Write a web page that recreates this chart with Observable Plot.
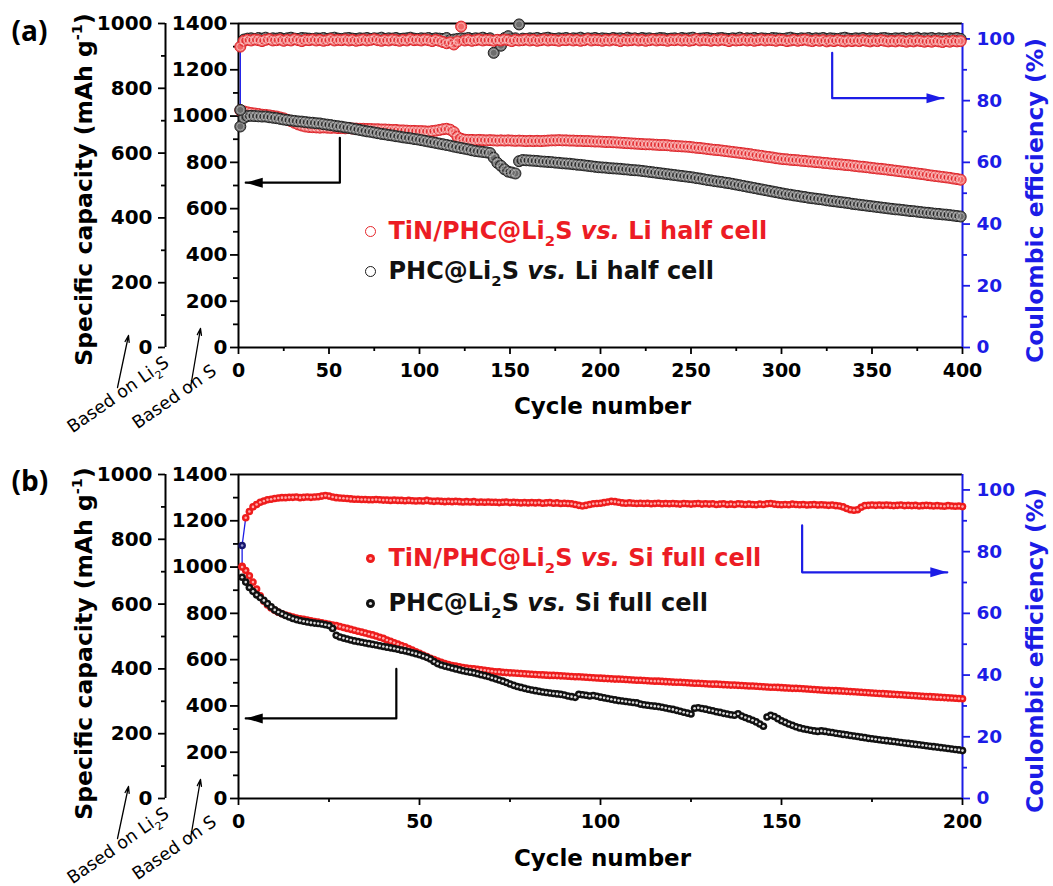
<!DOCTYPE html>
<html><head><meta charset="utf-8">
<script src="https://cdn.jsdelivr.net/npm/d3@7"></script>
<script src="https://cdn.jsdelivr.net/npm/@observablehq/plot@0.6"></script>
<style>body{margin:0;background:#fff;} #chart svg{display:block;}</style>
</head><body><div id="chart"></div>
<script>
// ---------------- DATA ----------------
// Panel (a): cycles 1,3,5,...,399 ; capacity in mAh g-1 (based on S), CE in %
const cyclesA = d3.range(1, 400, 2);
const capRedA = [
1025,1020,1016,1013,1011,1009,1006,1005,1003,1000,
998,994,990,984,978,971,964,959,955,953,
952,951,950,951,950,949,950,948,948,947,
948,946,946,945,945,944,944,943,943,942,
942,941,940,940,938,938,937,936,936,935,
935,934,933,935,937,940,943,945,941,931,
910,902,898,897,897,896,897,896,895,896,
895,894,895,894,895,894,893,894,893,892,
893,892,893,892,893,894,895,895,896,895,
895,894,894,893,893,892,892,891,890,890,
889,888,888,887,886,885,884,883,882,881,
880,879,878,878,877,876,875,875,874,872,
871,870,869,868,867,865,863,862,860,858,
856,854,853,851,849,847,845,843,841,839,
837,835,832,830,828,825,823,821,818,816,
814,813,811,810,809,807,806,804,803,801,
800,798,797,795,794,792,791,789,788,786,
784,782,781,779,777,775,773,772,770,768,
766,764,762,760,758,756,754,752,750,748,
745,743,741,739,737,735,733,730,728,725];
const capBlackA = [
955,992,1000,1001,1000,999,998,998,995,993,
991,988,985,983,981,979,977,976,974,972,
971,969,968,965,963,961,958,956,954,951,
949,946,943,940,937,934,932,929,926,923,
921,918,916,913,911,908,906,904,901,899,
896,893,890,887,884,881,878,875,872,868,
865,862,859,856,852,849,847,845,843,840,
820,798,785,770,760,756,752,805,810,809,
808,807,806,804,803,802,801,799,798,796,
795,794,792,790,789,787,785,783,781,779,
778,777,775,774,773,772,770,769,767,766,
765,763,761,759,757,755,753,751,749,747,
745,743,741,739,737,735,732,730,727,724,
722,719,717,715,712,710,707,704,701,698,
695,692,689,686,683,680,677,674,671,668,
665,662,660,657,655,652,650,647,645,643,
641,639,636,634,632,630,628,626,624,621,
619,617,615,613,611,609,607,605,603,601,
599,597,596,594,592,590,589,587,585,583,
582,580,578,577,575,574,572,570,568,566];
const ceRedA = [
97.5,99.4,99.7,99.5,99.8,99.6,99.3,99.7,99.9,99.5,
99.6,99.8,99.4,99.7,99.5,99.9,99.6,99.3,99.7,99.6,
99.8,99.5,99.7,99.4,99.6,99.9,99.5,99.7,99.6,99.8,
99.5,99.7,99.4,99.6,99.8,99.5,99.7,99.9,99.6,99.4,
99.7,99.5,99.8,99.6,99.4,99.7,99.5,99.9,99.6,99.7,
99.5,99.8,99.6,99.3,99.7,99.4,99.0,98.6,98.9,98.2,
99.2,104.0,99.5,99.7,99.4,99.6,99.8,99.5,99.7,99.6,
99.4,99.7,99.5,99.8,99.6,99.3,99.7,99.5,99.6,99.8,
99.5,99.7,99.4,99.6,99.8,99.5,99.7,99.6,99.4,99.7,
99.6,99.8,99.5,99.7,99.4,99.6,99.9,99.5,99.7,99.6,
99.4,99.7,99.5,99.8,99.6,99.3,99.7,99.5,99.6,99.8,
99.5,99.7,99.4,99.6,99.8,99.5,99.7,99.6,99.4,99.7,
99.6,99.8,99.5,99.7,99.4,99.6,99.9,99.5,99.7,99.6,
99.4,99.7,99.5,99.8,99.6,99.3,99.7,99.5,99.6,99.8,
99.5,99.7,99.4,99.6,99.8,99.5,99.7,99.6,99.4,99.7,
99.6,99.3,99.5,99.7,99.4,99.6,99.8,99.5,99.3,99.6,
99.4,99.6,99.2,99.5,99.3,99.6,99.4,99.2,99.5,99.3,
99.5,99.3,99.6,99.4,99.2,99.5,99.3,99.6,99.4,99.2,
99.4,99.2,99.5,99.3,99.1,99.4,99.2,99.5,99.3,99.1,
99.3,99.1,99.4,99.2,99.0,99.3,99.1,99.4,99.2,99.3];
const ceBlackA = [
77.0,99.8,100.1,100.2,100.0,100.3,100.1,100.4,100.0,100.2,
100.1,100.3,100.0,100.2,100.4,100.1,100.0,100.3,100.2,100.1,
100.0,100.2,100.1,100.3,100.0,100.2,100.4,100.1,100.0,100.2,
100.3,100.1,100.0,100.2,100.1,100.3,100.0,100.2,100.1,100.4,
100.0,100.2,100.1,100.3,100.0,100.1,100.2,100.4,100.1,100.0,
100.2,100.1,100.3,100.0,100.2,100.1,100.0,100.3,99.6,99.8,
100.0,100.2,100.1,100.3,100.0,100.2,100.1,100.4,100.0,100.2,
95.5,99.6,97.8,100.3,100.9,100.0,100.2,104.7,100.1,100.0,
100.2,100.1,100.3,100.0,100.2,100.4,100.1,100.0,100.2,100.1,
100.3,100.0,100.2,100.1,100.4,100.0,100.2,100.1,100.3,100.0,
100.2,100.1,100.0,100.3,100.1,100.2,100.0,100.4,100.1,100.2,
100.0,100.3,100.1,100.2,100.0,100.1,100.3,100.2,100.0,100.1,
100.2,100.0,100.3,100.1,100.2,100.4,100.0,100.1,100.2,100.3,
100.1,100.0,100.2,100.3,100.1,100.0,100.2,100.1,100.4,100.0,
100.2,100.1,100.3,100.0,100.2,100.1,100.0,100.3,100.2,100.1,
100.0,100.2,100.4,100.1,100.0,100.2,100.1,100.3,100.0,100.2,
100.1,100.3,100.0,100.2,100.1,100.0,100.2,100.4,100.1,100.0,
100.2,100.1,100.3,100.0,100.2,100.1,100.0,100.2,100.3,100.1,
100.0,100.2,100.1,100.3,100.0,100.2,100.1,100.4,100.0,100.2,
100.1,100.3,100.0,100.2,100.1,100.0,100.2,100.1,100.3,100.0];

// Panel (b): cycles 1..200
const cyclesB = d3.range(1, 201);
const capRedB = [
1003,985,962,935,905,876,852,836,823,813,
805,798,793,788,784,780,777,774,771,768,
765,762,759,756,753,750,747,743,739,735,
731,727,723,719,715,711,707,702,697,692,
685,679,673,667,661,655,648,641,634,627,
620,613,606,600,594,588,583,579,575,572,
569,566,564,562,560,558,556,554,552,550,
548,547,545,544,543,542,541,540,539,538,
537,536,535,534,533,532,532,531,530,529,
528,527,526,526,525,524,523,522,521,520,
519,518,517,516,516,515,514,513,512,511,
511,510,509,508,507,507,506,505,504,503,
502,502,501,500,499,498,498,497,496,495,
494,494,493,492,491,490,490,489,488,487,
486,486,485,484,483,482,481,481,480,479,
478,477,476,476,475,474,473,472,471,470,
469,468,467,466,466,465,464,463,462,461,
460,459,458,457,456,455,454,453,452,451,
450,449,448,447,446,445,444,443,442,441,
440,439,438,437,436,435,434,433,432,431];
const capBlackB = [
956,935,912,895,880,868,856,842,828,815,
806,798,791,784,778,773,769,766,763,760,
758,756,754,751,747,735,705,698,693,689,
685,681,678,675,672,669,666,663,660,657,
654,651,648,645,641,638,634,630,626,621,
616,610,603,592,583,577,572,568,564,560,
556,552,549,546,543,539,535,531,527,522,
517,512,507,501,495,489,484,480,476,472,
469,466,463,460,458,456,454,452,450,447,
443,440,437,450,448,446,443,445,442,438,
435,432,429,426,423,421,419,417,415,413,
408,405,403,401,399,397,394,391,388,385,
381,377,373,369,365,390,392,389,386,382,
379,375,372,368,365,362,360,366,356,350,
344,338,331,322,312,352,360,354,345,336,
329,322,316,310,305,301,298,295,292,290,
292,290,287,285,282,280,277,275,272,270,
268,265,263,260,258,256,254,252,250,248,
246,244,242,240,238,236,234,232,230,228,
226,224,222,220,218,216,214,212,210,207];
const ceRedB = [
75.0,91.0,93.0,94.5,95.3,96.0,96.4,96.8,97.0,97.2,
97.4,97.5,97.5,97.6,97.6,97.7,97.5,97.6,97.7,97.6,
97.7,97.8,98.0,98.2,98.0,97.7,97.5,97.4,97.3,97.2,
97.1,97.0,97.0,96.9,96.9,96.8,96.8,96.9,96.8,96.7,
96.7,96.6,96.7,96.6,96.6,96.5,96.6,96.5,96.4,96.5,
96.4,96.6,96.4,96.3,96.4,96.3,96.2,96.3,96.2,96.3,
96.2,96.1,96.2,96.1,96.2,96.0,96.1,96.0,96.1,96.0,
96.0,95.9,96.0,96.1,95.9,96.0,95.9,95.8,95.9,95.8,
95.9,95.8,95.9,95.7,95.8,95.9,95.7,95.8,95.6,95.7,
95.6,95.5,95.3,95.0,94.8,95.0,95.3,95.5,95.6,95.7,
95.9,96.1,96.3,96.2,96.0,95.8,95.7,95.8,95.7,95.6,
95.7,95.6,95.7,95.5,95.6,95.7,95.5,95.6,95.5,95.6,
95.5,95.4,95.6,95.5,95.4,95.5,95.6,95.4,95.5,95.4,
95.5,95.3,95.4,95.5,95.3,95.4,95.3,95.5,95.4,95.3,
95.4,95.3,95.2,95.4,95.3,95.5,95.6,95.4,95.3,95.2,
95.3,95.2,95.4,95.3,95.2,95.3,95.1,95.2,95.3,95.1,
95.2,95.1,95.0,95.1,94.9,94.8,94.5,94.0,93.6,93.4,
93.6,94.4,94.9,95.0,95.1,95.0,95.1,95.0,95.1,95.0,
94.9,95.0,95.1,94.9,95.0,94.9,95.0,94.8,94.9,95.0,
94.9,94.8,94.9,94.8,94.7,94.9,94.8,94.7,94.8,94.6];
const ceBlackB = [82.0]; // first-cycle CE of the PHC@Li2S full cell (the navy point)

// Tick values
const sTicks = [0,200,400,600,800,1000,1200,1400];
const sMinor = [100,300,500,700,900,1100,1300];
const li2sTicks = [0,200,400,600,800,1000];
const li2sMinor = [100,300,500,700,900];
const ceTicks = [0,20,40,60,80,100];
const ceMinor = [10,30,50,70,90];
const xTicksA = [0,50,100,150,200,250,300,350,400];
const xMinorA = [25,75,125,175,225,275,325,375];
const xTicksB = [0,50,100,150,200];
const xMinorB = [25,75,125,175];

// Labels
const legendA = ["TiN/PHC@Li_{2}S *vs.* Li half cell", "PHC@Li_{2}S *vs.* Li half cell"];
const legendB = ["TiN/PHC@Li_{2}S *vs.* Si full cell", "PHC@Li_{2}S *vs.* Si full cell"];
const yTitle = "Specific capacity (mAh g^{-1})";
const y2Title = "Coulombic efficiency (%)";
const xTitle = "Cycle number";
const basedLabels = ["Based on Li_{2}S", "Based on S"];

// Annotation arrows (cycle, capacity / CE)
const arrowsA = {black: [[56, 906], [56, 712], [4, 712]], blue: [[328, 95.5], [328, 80.8], [389.5, 80.8]]};
const arrowsB = {black: [[43.6, 560], [43.6, 346], [2, 346]], blue: [[155.7, 88.5], [155.7, 73.3], [195.8, 73.3]]};

// ---------------- STYLE / LAYOUT ----------------
const BLUE = "#1c1ce6", RED = "#ec1c24";
const K = 1400 / 105;      // CE (%) -> left scale units
const LI2S = 1.4;          // Li2S-based -> S-based
const W = 1053, H = 443, ML = 238, MR = 91, FW = W - ML - MR, FH = 324;
const fmt = d => String(Math.round(d));

const headLeft = {draw(ctx, size) { const r = Math.sqrt(size / Math.PI); ctx.moveTo(0, 0); ctx.lineTo(3.4 * r, -r); ctx.lineTo(3.4 * r, r); ctx.closePath(); }};
const headRight = {draw(ctx, size) { const r = Math.sqrt(size / Math.PI); ctx.moveTo(0, 0); ctx.lineTo(-3.4 * r, -r); ctx.lineTo(-3.4 * r, r); ctx.closePath(); }};

function axes(xTicks, xMinor, xMax) {
  const ax = {strokeWidth: 1.8, label: null};
  return [
    Plot.axisX(xTicks, {...ax, tickSize: 7, tickPadding: 9, fontSize: 19, tickFormat: fmt}),
    Plot.axisX(xMinor, {...ax, tickSize: 4, tickFormat: () => ""}),
    Plot.axisY(sTicks, {...ax, anchor: "left", tickSize: 8, tickPadding: 3, fontSize: 20, tickFormat: fmt}),
    Plot.axisY(sMinor, {...ax, anchor: "left", tickSize: 5, tickFormat: () => ""}),
    Plot.axisY(li2sTicks.map(v => v * LI2S), {...ax, anchor: "left", dx: -73, tickSize: 7, tickPadding: 6, fontSize: 20, tickFormat: d => fmt(d / LI2S)}),
    Plot.axisY(li2sMinor.map(v => v * LI2S), {...ax, anchor: "left", dx: -73, tickSize: 4, tickFormat: () => ""}),
    Plot.axisY(ceTicks.map(v => v * K), {...ax, anchor: "right", tickSize: 7, tickPadding: 7, fontSize: 18.5, color: BLUE, tickFormat: d => fmt(d / K)}),
    Plot.axisY(ceMinor.map(v => v * K), {...ax, anchor: "right", tickSize: 4, color: BLUE, tickFormat: () => ""}),
    Plot.ruleX([0], {dx: -73, strokeWidth: 2}),
    Plot.ruleY([0], {strokeWidth: 2}),
    Plot.ruleY([1400], {strokeWidth: 2}),
    Plot.ruleX([0], {strokeWidth: 2}),
    Plot.ruleX([xMax], {stroke: BLUE, strokeWidth: 2})
  ];
}

function titles(tag, dyTag, dyL, dyR, dyX) {
  const t = {fontSize: 23.5, textAnchor: "middle", lineAnchor: "middle"};
  return [
    Plot.text([tag], {frameAnchor: "top-left", dx: -227, dy: dyTag, textAnchor: "start", lineAnchor: "bottom", fontSize: 28, fontFamily: "'Open Sans', sans-serif", fontWeight: 700}),
    Plot.text([yTitle], {...t, frameAnchor: "left", dx: -154, dy: dyL, rotate: -90}),
    Plot.text([y2Title], {...t, frameAnchor: "right", dx: 73, dy: dyR, rotate: -90, fill: BLUE}),
    Plot.text([xTitle], {frameAnchor: "bottom", dx: 2, dy: dyX, lineAnchor: "bottom", fontSize: 23})
  ];
}

function based(xMax) {
  const px = (dx, dy) => [dx * xMax / FW, -dy * 1400 / FH];
  const arr = [[-121, 40, -110, -12], [-48, 40, -38, -19]].map(([a, b, c, d]) => [...px(a, b), ...px(c, d)]);
  const t = {frameAnchor: "bottom-left", rotate: -35, textAnchor: "start", lineAnchor: "bottom", fontSize: 17.5, fontWeight: "normal"};
  return [
    Plot.arrow(arr, {x1: d => d[0], y1: d => d[1], x2: d => d[2], y2: d => d[3], strokeWidth: 1.3, headLength: 8, headAngle: 35}),
    Plot.text([basedLabels[0]], {...t, dx: -166, dy: 86}),
    Plot.text([basedLabels[1]], {...t, dx: -101, dy: 82})
  ];
}

function bigArrows(arrows) {
  const blue = arrows.blue.map(([c, v]) => [c, v * K]);
  return [
    Plot.line(arrows.black, {stroke: "#000", strokeWidth: 2.2}),
    Plot.dot([arrows.black[2]], {symbol: headLeft, r: 5, fill: "#000", stroke: "none"}),
    Plot.line(blue, {stroke: BLUE, strokeWidth: 2.2}),
    Plot.dot([blue[2]], {symbol: headRight, r: 5, fill: BLUE, stroke: "none"})
  ];
}

const baseStyle = {fontFamily: "'DejaVu Sans', sans-serif", fontWeight: "bold", background: "#fff", overflow: "visible"};

// ---------------- PANEL (a) ----------------
const rowsA = cyclesA.map((c, i) => ({c, rc: capRedA[i], bc: capBlackA[i], re: ceRedA[i] * K, be: ceBlackA[i] * K}));
const redOpen = {r: 5.5, stroke: "#dc2228", fill: "#f26868", strokeWidth: 1};
const blackOpen = {r: 5.5, stroke: "#1e1e1e", fill: "#6c6c6c", strokeWidth: 1};
const hiRed = {r: 3.6, stroke: "#fff", strokeOpacity: 0.55, fill: "none", strokeWidth: 0.8};
const hiBlack = {r: 3.6, stroke: "#fff", strokeOpacity: 0.45, fill: "none", strokeWidth: 0.8};
const plotA = Plot.plot({
  width: W, height: H, marginLeft: ML, marginRight: MR, marginTop: 23, marginBottom: 96,
  x: {domain: [0, 400]}, y: {domain: [0, 1400]},
  style: baseStyle,
  marks: [
    ...axes(xTicksA, xMinorA, 400),
    Plot.line([[rowsA[0].c, rowsA[0].be], [rowsA[0].c, rowsA[0].re]], {stroke: BLUE, strokeWidth: 1.3}),
    Plot.dot(rowsA, {x: "c", y: "rc", ...redOpen}),
    Plot.dot(rowsA, {x: "c", y: "rc", ...hiRed}),
    Plot.dot(rowsA, {x: "c", y: "bc", ...blackOpen}),
    Plot.dot(rowsA, {x: "c", y: "bc", ...hiBlack}),
    Plot.dot(rowsA, {x: "c", y: "be", ...blackOpen}),
    Plot.dot(rowsA, {x: "c", y: "be", ...hiBlack}),
    Plot.dot(rowsA, {x: "c", y: "re", ...redOpen}),
    Plot.dot(rowsA, {x: "c", y: "re", ...hiRed}),
    ...bigArrows(arrowsA),
    Plot.dot([0], {frameAnchor: "top-left", dx: 132, dy: 208, r: 5, stroke: "#e5262b", fill: "#fff", strokeWidth: 1}),
    Plot.dot([0], {frameAnchor: "top-left", dx: 132, dy: 248, r: 5, stroke: "#1a1a1a", fill: "#fff", strokeWidth: 1}),
    Plot.text([legendA[0]], {frameAnchor: "top-left", dx: 150, dy: 208, textAnchor: "start", lineAnchor: "middle", fontSize: 24, fill: RED}),
    Plot.text([legendA[1]], {frameAnchor: "top-left", dx: 150, dy: 248, textAnchor: "start", lineAnchor: "middle", fontSize: 24, fill: "#111"}),
    ...titles("(a)", 17, 4, 15, 66),
    ...based(400)
  ]
});

// ---------------- PANEL (b) ----------------
const rowsB = cyclesB.map((c, i) => ({c, rc: capRedB[i], bc: capBlackB[i], re: ceRedB[i] * K}));
const navy = [{c: cyclesB[0], v: ceBlackB[0] * K}];
const plotB = Plot.plot({
  width: W, height: H, marginLeft: ML, marginRight: MR, marginTop: 31, marginBottom: 88,
  x: {domain: [0, 200]}, y: {domain: [0, 1400]},
  style: baseStyle,
  marks: [
    ...axes(xTicksB, xMinorB, 200),
    Plot.line([[rowsB[0].c, rowsB[0].re], [navy[0].c, navy[0].v], [rowsB[1].c, rowsB[1].re]], {stroke: BLUE, strokeWidth: 1.3}),
    Plot.dot(rowsB, {x: "c", y: "rc", r: 3.8, fill: "#ee1c1c"}),
    Plot.dot(rowsB, {x: "c", y: "rc", r: 1.3, fill: "#ffa8a8"}),
    Plot.dot(rowsB, {x: "c", y: "bc", r: 3.8, fill: "#111"}),
    Plot.dot(rowsB, {x: "c", y: "bc", r: 1.3, fill: "#dcdcdc"}),
    Plot.dot(rowsB, {x: "c", y: "re", r: 3.8, fill: "#ee1c1c"}),
    Plot.dot(rowsB, {x: "c", y: "re", r: 1.3, fill: "#ffa8a8"}),
    Plot.dot(navy, {x: "c", y: "v", r: 3.8, fill: "#16166e"}),
    Plot.dot(navy, {x: "c", y: "v", r: 1.3, fill: "#9a9ad0"}),
    ...bigArrows(arrowsB),
    Plot.dot([0], {frameAnchor: "top-left", dx: 132, dy: 84, r: 4.5, fill: "#ee1c1c"}),
    Plot.dot([0], {frameAnchor: "top-left", dx: 132, dy: 84, r: 1.6, fill: "#ffa8a8"}),
    Plot.dot([0], {frameAnchor: "top-left", dx: 132, dy: 129, r: 4.5, fill: "#111"}),
    Plot.dot([0], {frameAnchor: "top-left", dx: 132, dy: 129, r: 1.6, fill: "#dcdcdc"}),
    Plot.text([legendB[0]], {frameAnchor: "top-left", dx: 150, dy: 84, textAnchor: "start", lineAnchor: "middle", fontSize: 24, fill: RED}),
    Plot.text([legendB[1]], {frameAnchor: "top-left", dx: 150, dy: 129, textAnchor: "start", lineAnchor: "middle", fontSize: 24, fill: "#111"}),
    ...titles("(b)", 16, 7, 14, 67),
    ...based(200)
  ]
});

const host = document.getElementById("chart");
host.append(plotA, plotB);

// rich text: _{sub}, ^{sup}, *italic*
function richify(svg) {
  svg.querySelectorAll("text").forEach(t => {
    const s = t.textContent;
    if (!/[_^]\{|\*/.test(s)) return;
    const fs = parseFloat(getComputedStyle(t).fontSize);
    while (t.firstChild) t.removeChild(t.firstChild);
    let shift = 0;
    for (const part of s.split(/(_\{[^}]*\}|\^\{[^}]*\}|\*[^*]*\*)/g)) {
      if (!part) continue;
      const sp = document.createElementNS("http://www.w3.org/2000/svg", "tspan");
      let target = 0, txt = part, small = false, ital = false;
      if (part.startsWith("_{")) { target = 0.3 * fs; txt = part.slice(2, -1); small = true; }
      else if (part.startsWith("^{")) { target = -0.42 * fs; txt = part.slice(2, -1); small = true; }
      else if (part.startsWith("*")) { txt = part.slice(1, -1); ital = true; }
      const d = target - shift;
      if (d) sp.setAttribute("dy", d);
      shift = target;
      if (small) sp.setAttribute("font-size", 0.62 * fs);
      if (ital) sp.setAttribute("font-style", "italic");
      sp.textContent = txt;
      t.appendChild(sp);
    }
  });
}
richify(plotA); richify(plotB);
</script>
</body></html>
